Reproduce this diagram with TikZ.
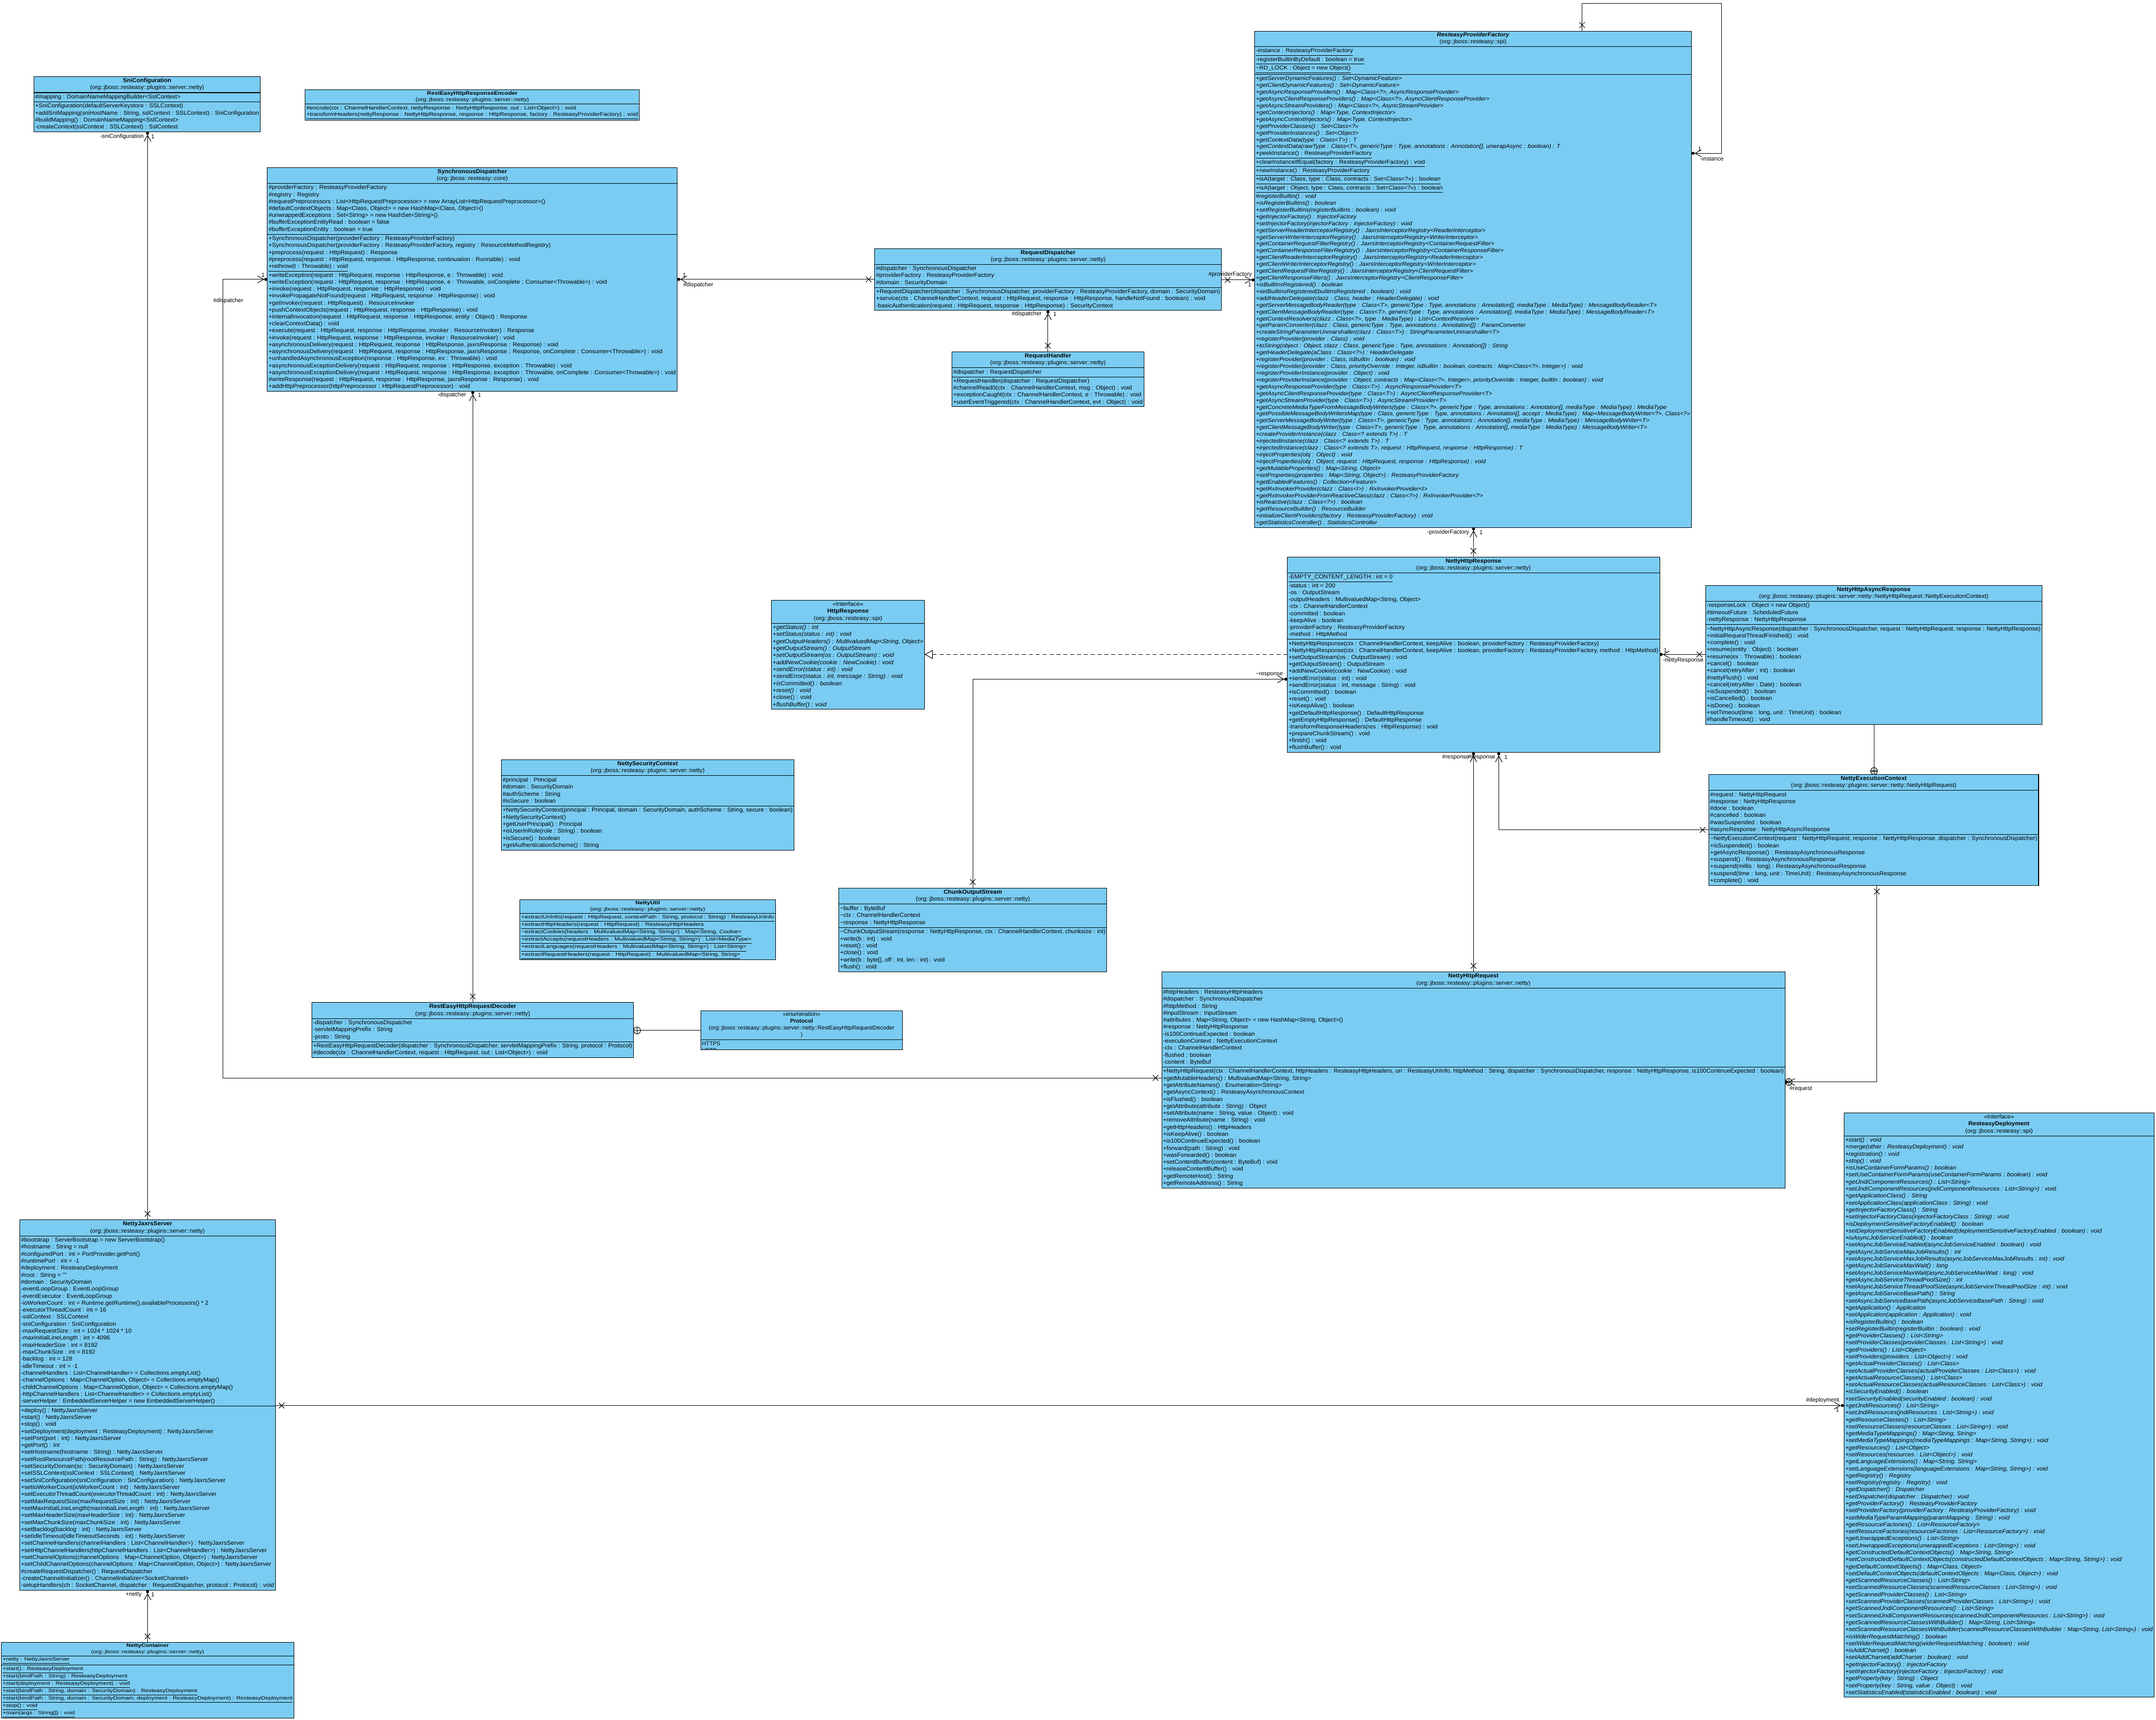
\documentclass[tikz,border=0pt]{standalone}
\usepackage{fontspec}
\setmainfont{Liberation Sans}
\usepackage{graphicx}
\usepackage{array}
\usetikzlibrary{arrows.meta,decorations.markings}
\definecolor{umlblue}{RGB}{122,204,242}
\newcommand\sep{\noalign{\vskip0.6pt}\hline\noalign{\vskip0.6pt}}
\newcommand\ttl[2]{\multicolumn{1}{c}{\bfseries #1}\\\multicolumn{1}{c}{#2}\\\sep}
\newcommand\ttlthree[3]{\multicolumn{1}{c}{#1}\\\multicolumn{1}{c}{\bfseries #2}\\\multicolumn{1}{c}{#3}\\\sep}
\newcommand\stat[1]{\underline{#1}}
\newcommand\tld{\textasciitilde}
\newcommand\umlcls[7][l]{\node[clsnode] (#2) at (#3,#4) {\resizebox*{#5pt}{#6pt}{\begin{tabular}{@{\hspace{0.9pt}}#1@{\hspace{0.9pt}}}\noalign{\vskip0.6pt}#7\\\noalign{\vskip0.6pt}\end{tabular}}};}
\begin{document}
\begin{tikzpicture}[x=1pt,y=-1pt,
  clsnode/.style={draw=black, line width=0.4pt, fill=umlblue, inner sep=0pt, outer sep=0pt, anchor=north west, font=\fontsize{4.2}{5.1}\selectfont},
  lbl/.style={inner sep=0.3pt, font=\fontsize{4.2}{5.1}\selectfont},
  assoc/.style={draw, line width=0.4pt, -{Straight Barb[length=4.5pt,width=5pt] Circle[length=2.2pt]}},
  xs/.style={postaction={decorate,decoration={markings,mark=at position 4.5pt with {\draw[line width=0.4pt,solid,-] (-2pt,-2pt)--(2pt,2pt) (-2pt,2pt)--(2pt,-2pt);}}}},
  real/.style={draw, line width=0.4pt, dash pattern=on 3pt off 2pt, -{Triangle[open,length=6pt,width=6.5pt]}},
  cont/.style={draw, line width=0.4pt, postaction={decorate,decoration={markings,mark=at position 1 with {\draw[line width=0.4pt,fill=white,-] (-2.5pt,0pt) circle (2.5pt); \draw[line width=0.4pt,-] (-5pt,0pt)--(0pt,0pt) (-2.5pt,-2.5pt)--(-2.5pt,2.5pt);}}}}
]
\fill[white] (0,0) rectangle (1568,1251);
\useasboundingbox (0,0) rectangle (1568,1251);

% ---------------- classes ----------------
\umlcls{sni}{24.7}{55.8}{164.6}{40}{%
\ttl{SniConfiguration}{(org::jboss::resteasy::plugins::server::netty)}
\#mapping : DomainNameMappingBuilder<SslContext>\\\sep
+SniConfiguration(defaultServerKeystore : SSLContext)\\
+addSniMapping(sniHostName : String, sslContext : SSLContext) : SniConfiguration\\
\#buildMapping() : DomainNameMapping<SslContext>\\
-createContext(sslContext : SSLContext) : SslContext}

\umlcls{enc}{222}{65.2}{243}{22.2}{%
\ttl{RestEasyHttpResponseEncoder}{(org::jboss::resteasy::plugins::server::netty)}
\#encode(ctx : ChannelHandlerContext, nettyResponse : NettyHttpResponse, out : List<Object>) : void\\
\stat{+transformHeaders(nettyResponse : NettyHttpResponse, response : HttpResponse, factory : ResteasyProviderFactory) : void}}

\umlcls{sd}{194.4}{121.9}{298.1}{162.6}{%
\ttl{SynchronousDispatcher}{(org::jboss::resteasy::core)}
\#providerFactory : ResteasyProviderFactory\\
\#registry : Registry\\
\#requestPreprocessors : List<HttpRequestPreprocessor> = new ArrayList<HttpRequestPreprocessor>()\\
\#defaultContextObjects : Map<Class, Object> = new HashMap<Class, Object>()\\
\#unwrappedExceptions : Set<String> = new HashSet<String>()\\
\#bufferExceptionEntityRead : boolean = false\\
\#bufferExceptionEntity : boolean = true\\\sep
+SynchronousDispatcher(providerFactory : ResteasyProviderFactory)\\
+SynchronousDispatcher(providerFactory : ResteasyProviderFactory, registry : ResourceMethodRegistry)\\
+preprocess(request : HttpRequest) : Response\\
\#preprocess(request : HttpRequest, response : HttpResponse, continuation : Runnable) : void\\
\stat{+rethrow(t : Throwable) : void}\\
+writeException(request : HttpRequest, response : HttpResponse, e : Throwable) : void\\
+writeException(request : HttpRequest, response : HttpResponse, e : Throwable, onComplete : Consumer<Throwable>) : void\\
+invoke(request : HttpRequest, response : HttpResponse) : void\\
+invokePropagateNotFound(request : HttpRequest, response : HttpResponse) : void\\
+getInvoker(request : HttpRequest) : ResourceInvoker\\
+pushContextObjects(request : HttpRequest, response : HttpResponse) : void\\
+internalInvocation(request : HttpRequest, response : HttpResponse, entity : Object) : Response\\
+clearContextData() : void\\
+execute(request : HttpRequest, response : HttpResponse, invoker : ResourceInvoker) : Response\\
+invoke(request : HttpRequest, response : HttpResponse, invoker : ResourceInvoker) : void\\
+asynchronousDelivery(request : HttpRequest, response : HttpResponse, jaxrsResponse : Response) : void\\
+asynchronousDelivery(request : HttpRequest, response : HttpResponse, jaxrsResponse : Response, onComplete : Consumer<Throwable>) : void\\
+unhandledAsynchronousException(response : HttpResponse, ex : Throwable) : void\\
+asynchronousExceptionDelivery(request : HttpRequest, response : HttpResponse, exception : Throwable) : void\\
+asynchronousExceptionDelivery(request : HttpRequest, response : HttpResponse, exception : Throwable, onComplete : Consumer<Throwable>) : void\\
\#writeResponse(request : HttpRequest, response : HttpResponse, jaxrsResponse : Response) : void\\
+addHttpPreprocessor(httpPreprocessor : HttpRequestPreprocessor) : void}

\umlcls{rd}{636.2}{180.8}{252.1}{44.9}{%
\ttl{RequestDispatcher}{(org::jboss::resteasy::plugins::server::netty)}
\#dispatcher : SynchronousDispatcher\\
\#providerFactory : ResteasyProviderFactory\\
\#domain : SecurityDomain\\\sep
+RequestDispatcher(dispatcher : SynchronousDispatcher, providerFactory : ResteasyProviderFactory, domain : SecurityDomain)\\
+service(ctx : ChannelHandlerContext, request : HttpRequest, response : HttpResponse, handleNotFound : boolean) : void\\
-basicAuthentication(request : HttpRequest, response : HttpResponse) : SecurityContext}

\umlcls{rh}{692.3}{255.9}{139.7}{39.9}{%
\ttl{RequestHandler}{(org::jboss::resteasy::plugins::server::netty)}
\#dispatcher : RequestDispatcher\\\sep
+RequestHandler(dispatcher : RequestDispatcher)\\
\#channelRead0(ctx : ChannelHandlerContext, msg : Object) : void\\
+exceptionCaught(ctx : ChannelHandlerContext, e : Throwable) : void\\
+userEventTriggered(ctx : ChannelHandlerContext, evt : Object) : void}

\umlcls[>{\itshape}l]{rpf}{912.4}{22.7}{317.8}{360.9}{%
\ttl{\itshape ResteasyProviderFactory}{(org::jboss::resteasy::spi)}
{\upshape\stat{-instance : ResteasyProviderFactory}}\\
{\upshape\stat{-registerBuiltinByDefault : boolean = true}}\\
{\upshape\stat{\tld RD\_LOCK : Object = new Object()}}\\\sep
+getServerDynamicFeatures() : Set<DynamicFeature>\\
+getClientDynamicFeatures() : Set<DynamicFeature>\\
+getAsyncResponseProviders() : Map<Class<?>, AsyncResponseProvider>\\
+getAsyncClientResponseProviders() : Map<Class<?>, AsyncClientResponseProvider>\\
+getAsyncStreamProviders() : Map<Class<?>, AsyncStreamProvider>\\
+getContextInjectors() : Map<Type, ContextInjector>\\
+getAsyncContextInjectors() : Map<Type, ContextInjector>\\
+getProviderClasses() : Set<Class<?>>\\
+getProviderInstances() : Set<Object>\\
+getContextData(type : Class<T>) : T\\
+getContextData(rawType : Class<T>, genericType : Type, annotations : Annotation[], unwrapAsync : boolean) : T\\
{\upshape\stat{+peekInstance() : ResteasyProviderFactory}}\\
{\upshape\stat{+clearInstanceIfEqual(factory : ResteasyProviderFactory) : void}}\\
{\upshape\stat{+newInstance() : ResteasyProviderFactory}}\\
{\upshape\stat{+isA(target : Class, type : Class, contracts : Set<Class<?>>) : boolean}}\\
{\upshape\stat{+isA(target : Object, type : Class, contracts : Set<Class<?>>) : boolean}}\\
\#registerBuiltin() : void\\
+isRegisterBuiltins() : boolean\\
+setRegisterBuiltins(registerBuiltins : boolean) : void\\
+getInjectorFactory() : InjectorFactory\\
+setInjectorFactory(injectorFactory : InjectorFactory) : void\\
+getServerReaderInterceptorRegistry() : JaxrsInterceptorRegistry<ReaderInterceptor>\\
+getServerWriterInterceptorRegistry() : JaxrsInterceptorRegistry<WriterInterceptor>\\
+getContainerRequestFilterRegistry() : JaxrsInterceptorRegistry<ContainerRequestFilter>\\
+getContainerResponseFilterRegistry() : JaxrsInterceptorRegistry<ContainerResponseFilter>\\
+getClientReaderInterceptorRegistry() : JaxrsInterceptorRegistry<ReaderInterceptor>\\
+getClientWriterInterceptorRegistry() : JaxrsInterceptorRegistry<WriterInterceptor>\\
+getClientRequestFilterRegistry() : JaxrsInterceptorRegistry<ClientRequestFilter>\\
+getClientResponseFilters() : JaxrsInterceptorRegistry<ClientResponseFilter>\\
+isBuiltinsRegistered() : boolean\\
+setBuiltinsRegistered(builtinsRegistered : boolean) : void\\
+addHeaderDelegate(clazz : Class, header : HeaderDelegate) : void\\
+getServerMessageBodyReader(type : Class<T>, genericType : Type, annotations : Annotation[], mediaType : MediaType) : MessageBodyReader<T>\\
+getClientMessageBodyReader(type : Class<T>, genericType : Type, annotations : Annotation[], mediaType : MediaType) : MessageBodyReader<T>\\
+getContextResolvers(clazz : Class<?>, type : MediaType) : List<ContextResolver>\\
+getParamConverter(clazz : Class, genericType : Type, annotations : Annotation[]) : ParamConverter\\
+createStringParameterUnmarshaller(clazz : Class<T>) : StringParameterUnmarshaller<T>\\
+registerProvider(provider : Class) : void\\
+toString(object : Object, clazz : Class, genericType : Type, annotations : Annotation[]) : String\\
+getHeaderDelegate(aClass : Class<?>) : HeaderDelegate\\
+registerProvider(provider : Class, isBuiltin : boolean) : void\\
+registerProvider(provider : Class, priorityOverride : Integer, isBuiltin : boolean, contracts : Map<Class<?>, Integer>) : void\\
+registerProviderInstance(provider : Object) : void\\
+registerProviderInstance(provider : Object, contracts : Map<Class<?>, Integer>, priorityOverride : Integer, builtIn : boolean) : void\\
+getAsyncResponseProvider(type : Class<T>) : AsyncResponseProvider<T>\\
+getAsyncClientResponseProvider(type : Class<T>) : AsyncClientResponseProvider<T>\\
+getAsyncStreamProvider(type : Class<T>) : AsyncStreamProvider<T>\\
+getConcreteMediaTypeFromMessageBodyWriters(type : Class<?>, genericType : Type, annotations : Annotation[], mediaType : MediaType) : MediaType\\
+getPossibleMessageBodyWritersMap(type : Class, genericType : Type, annotations : Annotation[], accept : MediaType) : Map<MessageBodyWriter<?>, Class<?>>\\
+getServerMessageBodyWriter(type : Class<T>, genericType : Type, annotations : Annotation[], mediaType : MediaType) : MessageBodyWriter<T>\\
+getClientMessageBodyWriter(type : Class<T>, genericType : Type, annotations : Annotation[], mediaType : MediaType) : MessageBodyWriter<T>\\
+createProviderInstance(clazz : Class<? extends T>) : T\\
+injectedInstance(clazz : Class<? extends T>) : T\\
+injectedInstance(clazz : Class<? extends T>, request : HttpRequest, response : HttpResponse) : T\\
+injectProperties(obj : Object) : void\\
+injectProperties(obj : Object, request : HttpRequest, response : HttpResponse) : void\\
+getMutableProperties() : Map<String, Object>\\
+setProperties(properties : Map<String, Object>) : ResteasyProviderFactory\\
+getEnabledFeatures() : Collection<Feature>\\
+getRxInvokerProvider(clazz : Class<I>) : RxInvokerProvider<I>\\
+getRxInvokerProviderFromReactiveClass(clazz : Class<?>) : RxInvokerProvider<?>\\
+isReactive(clazz : Class<?>) : boolean\\
+getResourceBuilder() : ResourceBuilder\\
+initializeClientProviders(factory : ResteasyProviderFactory) : void\\
+getStatisticsController() : StatisticsController}

\umlcls[>{\itshape}l]{hresp}{561}{436.6}{111.4}{79.3}{%
\ttlthree{<<Interface>>}{HttpResponse}{(org::jboss::resteasy::spi)}
+getStatus() : int\\
+setStatus(status : int) : void\\
+getOutputHeaders() : MultivaluedMap<String, Object>\\
+getOutputStream() : OutputStream\\
+setOutputStream(os : OutputStream) : void\\
+addNewCookie(cookie : NewCookie) : void\\
+sendError(status : int) : void\\
+sendError(status : int, message : String) : void\\
+isCommitted() : boolean\\
+reset() : void\\
{\upshape +close() : void}\\
+flushBuffer() : void}

\umlcls{nhresp}{936.2}{405.2}{270.8}{142}{%
\ttl{NettyHttpResponse}{(org::jboss::resteasy::plugins::server::netty)}
\stat{-EMPTY\_CONTENT\_LENGTH : int = 0}\\
-status : int = 200\\
-os : OutputStream\\
-outputHeaders : MultivaluedMap<String, Object>\\
-ctx : ChannelHandlerContext\\
-committed : boolean\\
-keepAlive : boolean\\
-providerFactory : ResteasyProviderFactory\\
-method : HttpMethod\\\sep
+NettyHttpResponse(ctx : ChannelHandlerContext, keepAlive : boolean, providerFactory : ResteasyProviderFactory)\\
+NettyHttpResponse(ctx : ChannelHandlerContext, keepAlive : boolean, providerFactory : ResteasyProviderFactory, method : HttpMethod)\\
+setOutputStream(os : OutputStream) : void\\
+getOutputStream() : OutputStream\\
+addNewCookie(cookie : NewCookie) : void\\
+sendError(status : int) : void\\
+sendError(status : int, message : String) : void\\
+isCommitted() : boolean\\
+reset() : void\\
+isKeepAlive() : boolean\\
+getDefaultHttpResponse() : DefaultHttpResponse\\
+getEmptyHttpResponse() : DefaultHttpResponse\\
-transformResponseHeaders(res : HttpResponse) : void\\
+prepareChunkStream() : void\\
+finish() : void\\
+flushBuffer() : void}

\umlcls{async}{1240.4}{425.8}{244.6}{101.1}{%
\ttl{NettyHttpAsyncResponse}{(org::jboss::resteasy::plugins::server::netty::NettyHttpRequest::NettyExecutionContext)}
-responseLock : Object = new Object()\\
\#timeoutFuture : ScheduledFuture\\
-nettyResponse : NettyHttpResponse\\\sep
\tld NettyHttpAsyncResponse(dispatcher : SynchronousDispatcher, request : NettyHttpRequest, response : NettyHttpResponse)\\
+initialRequestThreadFinished() : void\\
+complete() : void\\
+resume(entity : Object) : boolean\\
+resume(ex : Throwable) : boolean\\
+cancel() : boolean\\
+cancel(retryAfter : int) : boolean\\
\#nettyFlush() : void\\
+cancel(retryAfter : Date) : boolean\\
+isSuspended() : boolean\\
+isCancelled() : boolean\\
+isDone() : boolean\\
+setTimeout(time : long, unit : TimeUnit) : boolean\\
\#handleTimeout() : void}

\umlcls{nec}{1242.8}{563.3}{239.8}{80.6}{%
\ttl{NettyExecutionContext}{(org::jboss::resteasy::plugins::server::netty::NettyHttpRequest)}
\#request : NettyHttpRequest\\
\#response : NettyHttpResponse\\
\#done : boolean\\
\#cancelled : boolean\\
\#wasSuspended : boolean\\
\#asyncResponse : NettyHttpAsyncResponse\\\sep
\tld NettyExecutionContext(request : NettyHttpRequest, response : NettyHttpResponse, dispatcher : SynchronousDispatcher)\\
+isSuspended() : boolean\\
+getAsyncResponse() : ResteasyAsynchronousResponse\\
+suspend() : ResteasyAsynchronousResponse\\
+suspend(millis : long) : ResteasyAsynchronousResponse\\
+suspend(time : long, unit : TimeUnit) : ResteasyAsynchronousResponse\\
+complete() : void}

\umlcls{nsc}{364.6}{552.6}{212.8}{65.7}{%
\ttl{NettySecurityContext}{(org::jboss::resteasy::plugins::server::netty)}
\#principal : Principal\\
\#domain : SecurityDomain\\
\#authScheme : String\\
\#isSecure : boolean\\\sep
+NettySecurityContext(principal : Principal, domain : SecurityDomain, authScheme : String, secure : boolean)\\
+NettySecurityContext()\\
+getUserPrincipal() : Principal\\
+isUserInRole(role : String) : boolean\\
+isSecure() : boolean\\
+getAuthenticationScheme() : String}

\umlcls{nutil}{378.2}{654.5}{185.7}{43.7}{%
\ttl{NettyUtil}{(org::jboss::resteasy::plugins::server::netty)}
\stat{+extractUriInfo(request : HttpRequest, contextPath : String, protocol : String) : ResteasyUriInfo}\\
\stat{+extractHttpHeaders(request : HttpRequest) : ResteasyHttpHeaders}\\
\stat{\tld extractCookies(headers : MultivaluedMap<String, String>) : Map<String, Cookie>}\\
\stat{+extractAccepts(requestHeaders : MultivaluedMap<String, String>) : List<MediaType>}\\
\stat{+extractLanguages(requestHeaders : MultivaluedMap<String, String>) : List<String>}\\
\stat{+extractRequestHeaders(request : HttpRequest) : MultivaluedMap<String, String>}}

\umlcls{chunk}{610}{646}{195}{60.7}{%
\ttl{ChunkOutputStream}{(org::jboss::resteasy::plugins::server::netty)}
\tld buffer : ByteBuf\\
\tld ctx : ChannelHandlerContext\\
\tld response : NettyHttpResponse\\\sep
\tld ChunkOutputStream(response : NettyHttpResponse, ctx : ChannelHandlerContext, chunksize : int)\\
+write(b : int) : void\\
+reset() : void\\
+close() : void\\
+write(b : byte[], off : int, len : int) : void\\
+flush() : void}

\umlcls{dec}{226.8}{729.2}{234}{40}{%
\ttl{RestEasyHttpRequestDecoder}{(org::jboss::resteasy::plugins::server::netty)}
-dispatcher : SynchronousDispatcher\\
-servletMappingPrefix : String\\
-proto : String\\\sep
+RestEasyHttpRequestDecoder(dispatcher : SynchronousDispatcher, servletMappingPrefix : String, protocol : Protocol)\\
\#decode(ctx : ChannelHandlerContext, request : HttpRequest, out : List<Object>) : void}

\begin{scope}
\clip (509.6,735) rectangle (656.3,763.5);
\node[clsnode, draw=none] (protobody) at (509.6,735) {\resizebox{146.7pt}{!}{\begin{tabular}{@{\hspace{0.9pt}}l@{\hspace{0.9pt}}}\noalign{\vskip0.6pt}%
\multicolumn{1}{c}{<<enumeration>>}\\
\multicolumn{1}{c}{\bfseries Protocol}\\
\multicolumn{1}{c}{(org::jboss::resteasy::plugins::server::netty::RestEasyHttpRequestDecoder}\\
\multicolumn{1}{c}{)}\\\sep
HTTPS\\
HTTP\\\noalign{\vskip0.6pt}\end{tabular}}};
\end{scope}
\node[draw=black, line width=0.4pt, inner sep=0pt, outer sep=0pt, anchor=north west, minimum width=146.7pt, minimum height=28.5pt] (proto) at (509.6,735) {};

\umlcls{nhreq}{844.9}{707}{453.4}{157}{%
\ttl{NettyHttpRequest}{(org::jboss::resteasy::plugins::server::netty)}
\#httpHeaders : ResteasyHttpHeaders\\
\#dispatcher : SynchronousDispatcher\\
\#httpMethod : String\\
\#inputStream : InputStream\\
\#attributes : Map<String, Object> = new HashMap<String, Object>()\\
\#response : NettyHttpResponse\\
-is100ContinueExpected : boolean\\
-executionContext : NettyExecutionContext\\
-ctx : ChannelHandlerContext\\
-flushed : boolean\\
-content : ByteBuf\\\sep
+NettyHttpRequest(ctx : ChannelHandlerContext, httpHeaders : ResteasyHttpHeaders, uri : ResteasyUriInfo, httpMethod : String, dispatcher : SynchronousDispatcher, response : NettyHttpResponse, is100ContinueExpected : boolean)\\
+getMutableHeaders() : MultivaluedMap<String, String>\\
+getAttributeNames() : Enumeration<String>\\
+getAsyncContext() : ResteasyAsynchronousContext\\
+isFlushed() : boolean\\
+getAttribute(attribute : String) : Object\\
+setAttribute(name : String, value : Object) : void\\
+removeAttribute(name : String) : void\\
+getHttpHeaders() : HttpHeaders\\
+isKeepAlive() : boolean\\
+is100ContinueExpected() : boolean\\
+forward(path : String) : void\\
+wasForwarded() : boolean\\
+setContentBuffer(content : ByteBuf) : void\\
+releaseContentBuffer() : void\\
+getRemoteHost() : String\\
+getRemoteAddress() : String}

\umlcls{njs}{14.3}{887.3}{186}{269.3}{%
\ttl{NettyJaxrsServer}{(org::jboss::resteasy::plugins::server::netty)}
\#bootstrap : ServerBootstrap = new ServerBootstrap()\\
\#hostname : String = null\\
\#configuredPort : int = PortProvider.getPort()\\
\#runtimePort : int = -1\\
\#deployment : ResteasyDeployment\\
\#root : String = ""\\
\#domain : SecurityDomain\\
-eventLoopGroup : EventLoopGroup\\
-eventExecutor : EventLoopGroup\\
-ioWorkerCount : int = Runtime.getRuntime().availableProcessors() * 2\\
-executorThreadCount : int = 16\\
-sslContext : SSLContext\\
-sniConfiguration : SniConfiguration\\
-maxRequestSize : int = 1024 * 1024 * 10\\
-maxInitialLineLength : int = 4096\\
-maxHeaderSize : int = 8192\\
-maxChunkSize : int = 8192\\
-backlog : int = 128\\
-idleTimeout : int = -1\\
-channelHandlers : List<ChannelHandler> = Collections.emptyList()\\
-channelOptions : Map<ChannelOption, Object> = Collections.emptyMap()\\
-childChannelOptions : Map<ChannelOption, Object> = Collections.emptyMap()\\
-httpChannelHandlers : List<ChannelHandler> = Collections.emptyList()\\
-serverHelper : EmbeddedServerHelper = new EmbeddedServerHelper()\\\sep
+deploy() : NettyJaxrsServer\\
+start() : NettyJaxrsServer\\
+stop() : void\\
+setDeployment(deployment : ResteasyDeployment) : NettyJaxrsServer\\
+setPort(port : int) : NettyJaxrsServer\\
+getPort() : int\\
+setHostname(hostname : String) : NettyJaxrsServer\\
+setRootResourcePath(rootResourcePath : String) : NettyJaxrsServer\\
+setSecurityDomain(sc : SecurityDomain) : NettyJaxrsServer\\
+setSSLContext(sslContext : SSLContext) : NettyJaxrsServer\\
+setSniConfiguration(sniConfiguration : SniConfiguration) : NettyJaxrsServer\\
+setIoWorkerCount(ioWorkerCount : int) : NettyJaxrsServer\\
+setExecutorThreadCount(executorThreadCount : int) : NettyJaxrsServer\\
+setMaxRequestSize(maxRequestSize : int) : NettyJaxrsServer\\
+setMaxInitialLineLength(maxInitialLineLength : int) : NettyJaxrsServer\\
+setMaxHeaderSize(maxHeaderSize : int) : NettyJaxrsServer\\
+setMaxChunkSize(maxChunkSize : int) : NettyJaxrsServer\\
+setBacklog(backlog : int) : NettyJaxrsServer\\
+setIdleTimeout(idleTimeoutSeconds : int) : NettyJaxrsServer\\
+setChannelHandlers(channelHandlers : List<ChannelHandler>) : NettyJaxrsServer\\
+setHttpChannelHandlers(httpChannelHandlers : List<ChannelHandler>) : NettyJaxrsServer\\
+setChannelOptions(channelOptions : Map<ChannelOption, Object>) : NettyJaxrsServer\\
+setChildChannelOptions(channelOptions : Map<ChannelOption, Object>) : NettyJaxrsServer\\
\#createRequestDispatcher() : RequestDispatcher\\
-createChannelInitializer() : ChannelInitializer<SocketChannel>\\
-setupHandlers(ch : SocketChannel, dispatcher : RequestDispatcher, protocol : Protocol) : void}

\umlcls{ncont}{1}{1194.7}{212.7}{55}{%
\ttl{NettyContainer}{(org::jboss::resteasy::plugins::server::netty)}
\stat{+netty : NettyJaxrsServer}\\\sep
\stat{+start() : ResteasyDeployment}\\
\stat{+start(bindPath : String) : ResteasyDeployment}\\
\stat{+start(deployment : ResteasyDeployment) : void}\\
\stat{+start(bindPath : String, domain : SecurityDomain) : ResteasyDeployment}\\
\stat{+start(bindPath : String, domain : SecurityDomain, deployment : ResteasyDeployment) : ResteasyDeployment}\\
\stat{+stop() : void}\\
\stat{+main(args : String[]) : void}}

\umlcls[>{\itshape}l]{rdep}{1341}{809.5}{225.6}{425}{%
\ttlthree{<<Interface>>}{ResteasyDeployment}{(org::jboss::resteasy::spi)}
+start() : void\\
+merge(other : ResteasyDeployment) : void\\
+registration() : void\\
+stop() : void\\
+isUseContainerFormParams() : boolean\\
+setUseContainerFormParams(useContainerFormParams : boolean) : void\\
+getJndiComponentResources() : List<String>\\
+setJndiComponentResources(jndiComponentResources : List<String>) : void\\
+getApplicationClass() : String\\
+setApplicationClass(applicationClass : String) : void\\
+getInjectorFactoryClass() : String\\
+setInjectorFactoryClass(injectorFactoryClass : String) : void\\
+isDeploymentSensitiveFactoryEnabled() : boolean\\
+setDeploymentSensitiveFactoryEnabled(deploymentSensitiveFactoryEnabled : boolean) : void\\
+isAsyncJobServiceEnabled() : boolean\\
+setAsyncJobServiceEnabled(asyncJobServiceEnabled : boolean) : void\\
+getAsyncJobServiceMaxJobResults() : int\\
+setAsyncJobServiceMaxJobResults(asyncJobServiceMaxJobResults : int) : void\\
+getAsyncJobServiceMaxWait() : long\\
+setAsyncJobServiceMaxWait(asyncJobServiceMaxWait : long) : void\\
+getAsyncJobServiceThreadPoolSize() : int\\
+setAsyncJobServiceThreadPoolSize(asyncJobServiceThreadPoolSize : int) : void\\
+getAsyncJobServiceBasePath() : String\\
+setAsyncJobServiceBasePath(asyncJobServiceBasePath : String) : void\\
+getApplication() : Application\\
+setApplication(application : Application) : void\\
+isRegisterBuiltin() : boolean\\
+setRegisterBuiltin(registerBuiltin : boolean) : void\\
+getProviderClasses() : List<String>\\
+setProviderClasses(providerClasses : List<String>) : void\\
+getProviders() : List<Object>\\
+setProviders(providers : List<Object>) : void\\
+getActualProviderClasses() : List<Class>\\
+setActualProviderClasses(actualProviderClasses : List<Class>) : void\\
+getActualResourceClasses() : List<Class>\\
+setActualResourceClasses(actualResourceClasses : List<Class>) : void\\
+isSecurityEnabled() : boolean\\
+setSecurityEnabled(securityEnabled : boolean) : void\\
+getJndiResources() : List<String>\\
+setJndiResources(jndiResources : List<String>) : void\\
+getResourceClasses() : List<String>\\
+setResourceClasses(resourceClasses : List<String>) : void\\
+getMediaTypeMappings() : Map<String, String>\\
+setMediaTypeMappings(mediaTypeMappings : Map<String, String>) : void\\
+getResources() : List<Object>\\
+setResources(resources : List<Object>) : void\\
+getLanguageExtensions() : Map<String, String>\\
+setLanguageExtensions(languageExtensions : Map<String, String>) : void\\
+getRegistry() : Registry\\
+setRegistry(registry : Registry) : void\\
+getDispatcher() : Dispatcher\\
+setDispatcher(dispatcher : Dispatcher) : void\\
+getProviderFactory() : ResteasyProviderFactory\\
+setProviderFactory(providerFactory : ResteasyProviderFactory) : void\\
+setMediaTypeParamMapping(paramMapping : String) : void\\
+getResourceFactories() : List<ResourceFactory>\\
+setResourceFactories(resourceFactories : List<ResourceFactory>) : void\\
+getUnwrappedExceptions() : List<String>\\
+setUnwrappedExceptions(unwrappedExceptions : List<String>) : void\\
+getConstructedDefaultContextObjects() : Map<String, String>\\
+setConstructedDefaultContextObjects(constructedDefaultContextObjects : Map<String, String>) : void\\
+getDefaultContextObjects() : Map<Class, Object>\\
+setDefaultContextObjects(defaultContextObjects : Map<Class, Object>) : void\\
+getScannedResourceClasses() : List<String>\\
+setScannedResourceClasses(scannedResourceClasses : List<String>) : void\\
+getScannedProviderClasses() : List<String>\\
+setScannedProviderClasses(scannedProviderClasses : List<String>) : void\\
+getScannedJndiComponentResources() : List<String>\\
+setScannedJndiComponentResources(scannedJndiComponentResources : List<String>) : void\\
+getScannedResourceClassesWithBuilder() : Map<String, List<String>>\\
+setScannedResourceClassesWithBuilder(scannedResourceClassesWithBuilder : Map<String, List<String>>) : void\\
+isWiderRequestMatching() : boolean\\
+setWiderRequestMatching(widerRequestMatching : boolean) : void\\
+isAddCharset() : boolean\\
+setAddCharset(addCharset : boolean) : void\\
+getInjectorFactory() : InjectorFactory\\
+setInjectorFactory(injectorFactory : InjectorFactory) : void\\
+getProperty(key : String) : Object\\
+setProperty(key : String, value : Object) : void\\
+setStatisticsEnabled(statisticsEnabled : boolean) : void}

% ---------------- connectors ----------------
\draw[assoc,xs] (njs.north) -- (njs.north |- sni.south);
\draw[assoc,xs] (ncont.north -| njs.south) -- (njs.south);
\draw[assoc,xs] (njs.east |- 0,1022.3) -- (rdep.west |- 0,1022.3);
\draw[assoc,xs] (nhreq.west |- 0,784) -- (162,784) -- (162,203.2) -- (sd.west |- 0,203.2);
\draw[assoc,xs] (dec.north) -- (dec.north |- sd.south);
\draw[assoc,xs] (rd.west |- 0,203.2) -- (sd.east |- 0,203.2);
\draw[assoc,xs] (rd.east |- 0,203.6) -- (rpf.west |- 0,203.6);
\draw[assoc,xs] (rh.north) -- (rh.north |- rd.south);
\draw[assoc,xs] (1150.6,0 |- rpf.north) -- (1150.6,2.5) -- (1252,2.5) -- (1252,111.5) -- (rpf.east |- 0,111.5);
\draw[assoc,xs] (nhresp.north) -- (nhresp.north |- rpf.south);
\draw[assoc,xs] (nhreq.north) -- (nhreq.north |- nhresp.south);
\draw[assoc,xs] (nec.west |- 0,603.6) -- (1090,603.6) -- (1090,0 |- nhresp.south);
\draw[cont] (1365,0 |- nec.south) -- (1365,787) -- (nhreq.east |- 0,787);
\draw[assoc,xs] (1365,0 |- nec.south) -- (1365,787) -- (nhreq.east |- 0,787);
\draw[cont] (1362.9,0 |- async.south) -- (1362.9,0 |- nec.north);
\draw[assoc,xs] (async.west |- 0,476) -- (nhresp.east |- 0,476);
\draw[assoc,xs] (chunk.north) -- (chunk.north |- 0,494) -- (nhresp.west |- 0,494);
\draw[real] (nhresp.west |- 0,476) -- (hresp.east |- 0,476);
\draw[cont] (proto.west |- 0,749.5) -- (dec.east |- 0,749.5);

% ---------------- labels ----------------
\node[lbl, anchor=east] (l1a) at (105,99.5) {-sniConfiguration};
\node[lbl, anchor=west] (l1b) at (109.5,99.5) {1};
\node[lbl, anchor=east] (l2a) at (103.5,1159.8) {+netty};
\node[lbl, anchor=west] (l2b) at (109.5,1159.8) {1};
\node[lbl, anchor=south east] (l3a) at (1338,1021) {\#deployment};
\node[lbl, anchor=north east] (l3b) at (1338,1023.5) {1};
\node[lbl, anchor=south east] (l4b) at (193,202) {1};
\node[lbl] (l4a) at (166,219) {\#dispatcher};
\node[lbl, anchor=east] (l5a) at (339.5,287.5) {-dispatcher};
\node[lbl, anchor=west] (l5b) at (347,287.5) {1};
\node[lbl, anchor=south west] (l6b) at (496,202) {1};
\node[lbl, anchor=north west] (l6a) at (496.5,205) {\#dispatcher};
\node[lbl, anchor=south east] (l7a) at (911,202.3) {\#providerFactory};
\node[lbl, anchor=north east] (l7b) at (910.5,205.2) {1};
\node[lbl, anchor=east] (l8a) at (758,228.5) {\#dispatcher};
\node[lbl, anchor=west] (l8b) at (765.5,228.5) {1};
\node[lbl, anchor=south west] (l9b) at (1234.5,110) {1};
\node[lbl, anchor=north west] (l9a) at (1236,113.5) {-instance};
\node[lbl, anchor=east] (l10a) at (1069,387.3) {-providerFactory};
\node[lbl, anchor=west] (l10b) at (1075.5,387.3) {1};
\node[lbl, anchor=east] (l11a) at (1069,550.8) {\#response};
\node[lbl, anchor=east] (l12a) at (1088,550.8) {\#response};
\node[lbl, anchor=west] (l12b) at (1093.5,550.8) {1};
\node[lbl, anchor=north west] (l13a) at (1301,789.5) {\#request};
\node[lbl, anchor=south west] (l14b) at (1209.5,474.8) {1};
\node[lbl, anchor=north west] (l14a) at (1209,477.8) {-nettyResponse};
\node[lbl, anchor=south east] (l15a) at (933.5,492.8) {\tld response};
\end{tikzpicture}
\end{document}
